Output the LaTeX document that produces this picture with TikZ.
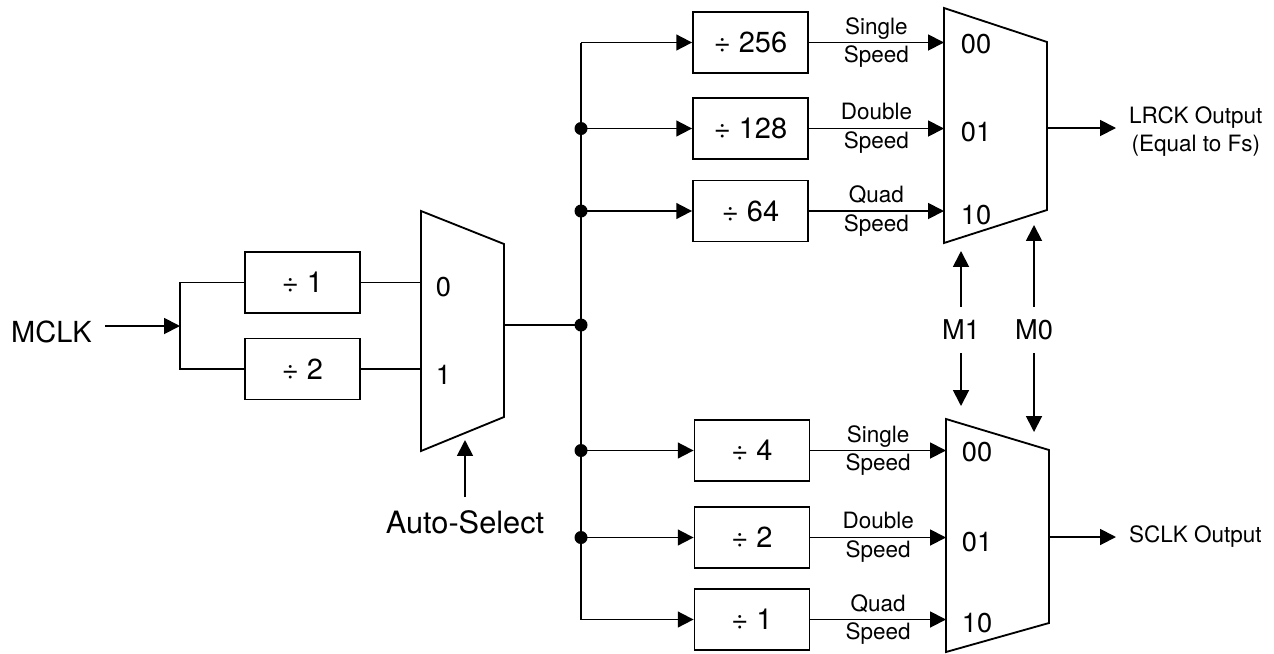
\documentclass[tikz,border=0pt]{standalone}
\usepackage{fontspec}
\setmainfont{TeX Gyre Heros}
\usetikzlibrary{arrows.meta,positioning}

\begin{document}
\begin{tikzpicture}[x=0.02cm,y=-0.02cm,line width=1.05pt,
  >={Triangle[length=9pt,width=9pt]},
  divbox/.style={draw,minimum width=2.3cm,minimum height=1.22cm,font=\fontsize{16.5}{19}\selectfont},
  speedlbl/.style={align=center,inner sep=0pt,font=\fontsize{12.8}{16.4}\selectfont},
  port/.style={anchor=west,inner sep=0pt,font=\fontsize{15.5}{18}\selectfont},
  sig/.style={inner sep=7pt,font=\fontsize{16.5}{19}\selectfont},
  mode/.style={inner sep=7pt,font=\fontsize{15.5}{18}\selectfont},
  outlbl/.style={anchor=west,align=center,inner sep=7pt,font=\fontsize{12.8}{15.9}\selectfont}]
  \useasboundingbox (0,0) rectangle (1274,653);

  % input stage
  \node[sig,anchor=east] (mclk) at (105,332) {MCLK};
  \coordinate (split) at (180,326);
  \node[divbox] (div1) at (302.5,282.5) {÷ 1};
  \node[divbox] (div2) at (302.5,369) {÷ 2};
  \draw[->] (mclk.east |- split) -- (split);
  \draw (split) -- (split |- div1) -- (div1.west);
  \draw (split) -- (split |- div2) -- (div2.west);

  % auto-select mux
  \draw (421,211) -- (504,244) -- (504,417) -- (421,451) -- cycle;
  \coordinate (mux1in0) at (421,282.5);
  \coordinate (mux1in1) at (421,369);
  \coordinate (mux1out) at (504,325);
  \coordinate (mux1sel) at (465,440);
  \node[port] (mux1p0) at (435,287) {0};
  \node[port] (mux1p1) at (435,375) {1};
  \draw (div1.east) -- (mux1in0);
  \draw (div2.east) -- (mux1in1);
  \node[sig,font=\fontsize{17.5}{20}\selectfont] (autosel) at (465,522) {Auto-Select};
  \draw[->] (autosel.north) -- (mux1sel);

  % dividers
  \node[divbox] (div256) at (750.5,42.5) {÷ 256};
  \node[divbox] (div128) at (750.5,128.5) {÷ 128};
  \node[divbox] (div64) at (750.5,211) {÷ 64};
  \node[divbox] (sdiv4) at (752,450.5) {÷ 4};
  \node[divbox] (sdiv2) at (752,537.5) {÷ 2};
  \node[divbox] (sdiv1) at (752,619.5) {÷ 1};

  % bus
  \coordinate (bustop) at (581,42.5);
  \coordinate (busbot) at (581,619.5);
  \draw (mux1out) -- (bustop |- mux1out);
  \draw (bustop) -- (busbot);
  \draw[->] (bustop) -- (div256.west);
  \draw[->] (busbot) -- (sdiv1.west);
  \foreach \d in {div128,div64,sdiv4,sdiv2} {
    \draw[->] (bustop |- \d) -- (\d.west);
    \fill (bustop |- \d) circle (3.7pt);
  }
  \fill (bustop |- mux1out) circle (3.7pt);

  % LRCK mux
  \draw (944,8) -- (1047,42) -- (1047,210) -- (944,243) -- cycle;
  \coordinate (mux2in0) at (944,42.5);
  \coordinate (mux2in1) at (944,128.5);
  \coordinate (mux2in2) at (944,211);
  \coordinate (mux2out) at (1047,128);
  \coordinate (mux2s1) at (961,251);
  \coordinate (mux2s0) at (1034,225);
  \node[port] (mux2p0) at (960,44) {00};
  \node[port] (mux2p1) at (960,132) {01};
  \node[port] (mux2p2) at (960,215) {10};

  % SCLK mux
  \draw (946,419) -- (1049,450) -- (1049,623) -- (946,652) -- cycle;
  \coordinate (mux3in0) at (946,450.5);
  \coordinate (mux3in1) at (946,537.5);
  \coordinate (mux3in2) at (946,619.5);
  \coordinate (mux3out) at (1049,537);
  \coordinate (mux3s1) at (961,406);
  \coordinate (mux3s0) at (1034,432);
  \node[port] (mux3p0) at (961,452) {00};
  \node[port] (mux3p1) at (961,542) {01};
  \node[port] (mux3p2) at (961,623) {10};

  % divider outputs with speed labels
  \foreach \d/\m/\s in {div256/mux2in0/Single,div128/mux2in1/Double,div64/mux2in2/Quad,
                        sdiv4/mux3in0/Single,sdiv2/mux3in1/Double,sdiv1/mux3in2/Quad} {
    \draw[->] (\d.east) -- (\m);
    \path (\d.east) -- (\m) node[speedlbl,midway] (lbl-\d) {\s\\Speed};
  }

  % mode pins
  \node[mode] (m1) at (961,330) {M1};
  \node[mode] (m0) at (1034,330) {M0};
  \draw[->] (m1.north) -- (mux2s1);
  \draw[->] (m1.south) -- (mux3s1);
  \draw[->] (m0.north) -- (mux2s0);
  \draw[->] (m0.south) -- (mux3s0);

  % outputs
  \node[outlbl] (lrck) at (1116,132) {LRCK Output\\(Equal to Fs)};
  \node[outlbl] (sclk) at (1116,537) {SCLK Output};
  \draw[->] (mux2out) -- (lrck.west |- mux2out);
  \draw[->] (mux3out) -- (sclk.west |- mux3out);
\end{tikzpicture}
\end{document}
